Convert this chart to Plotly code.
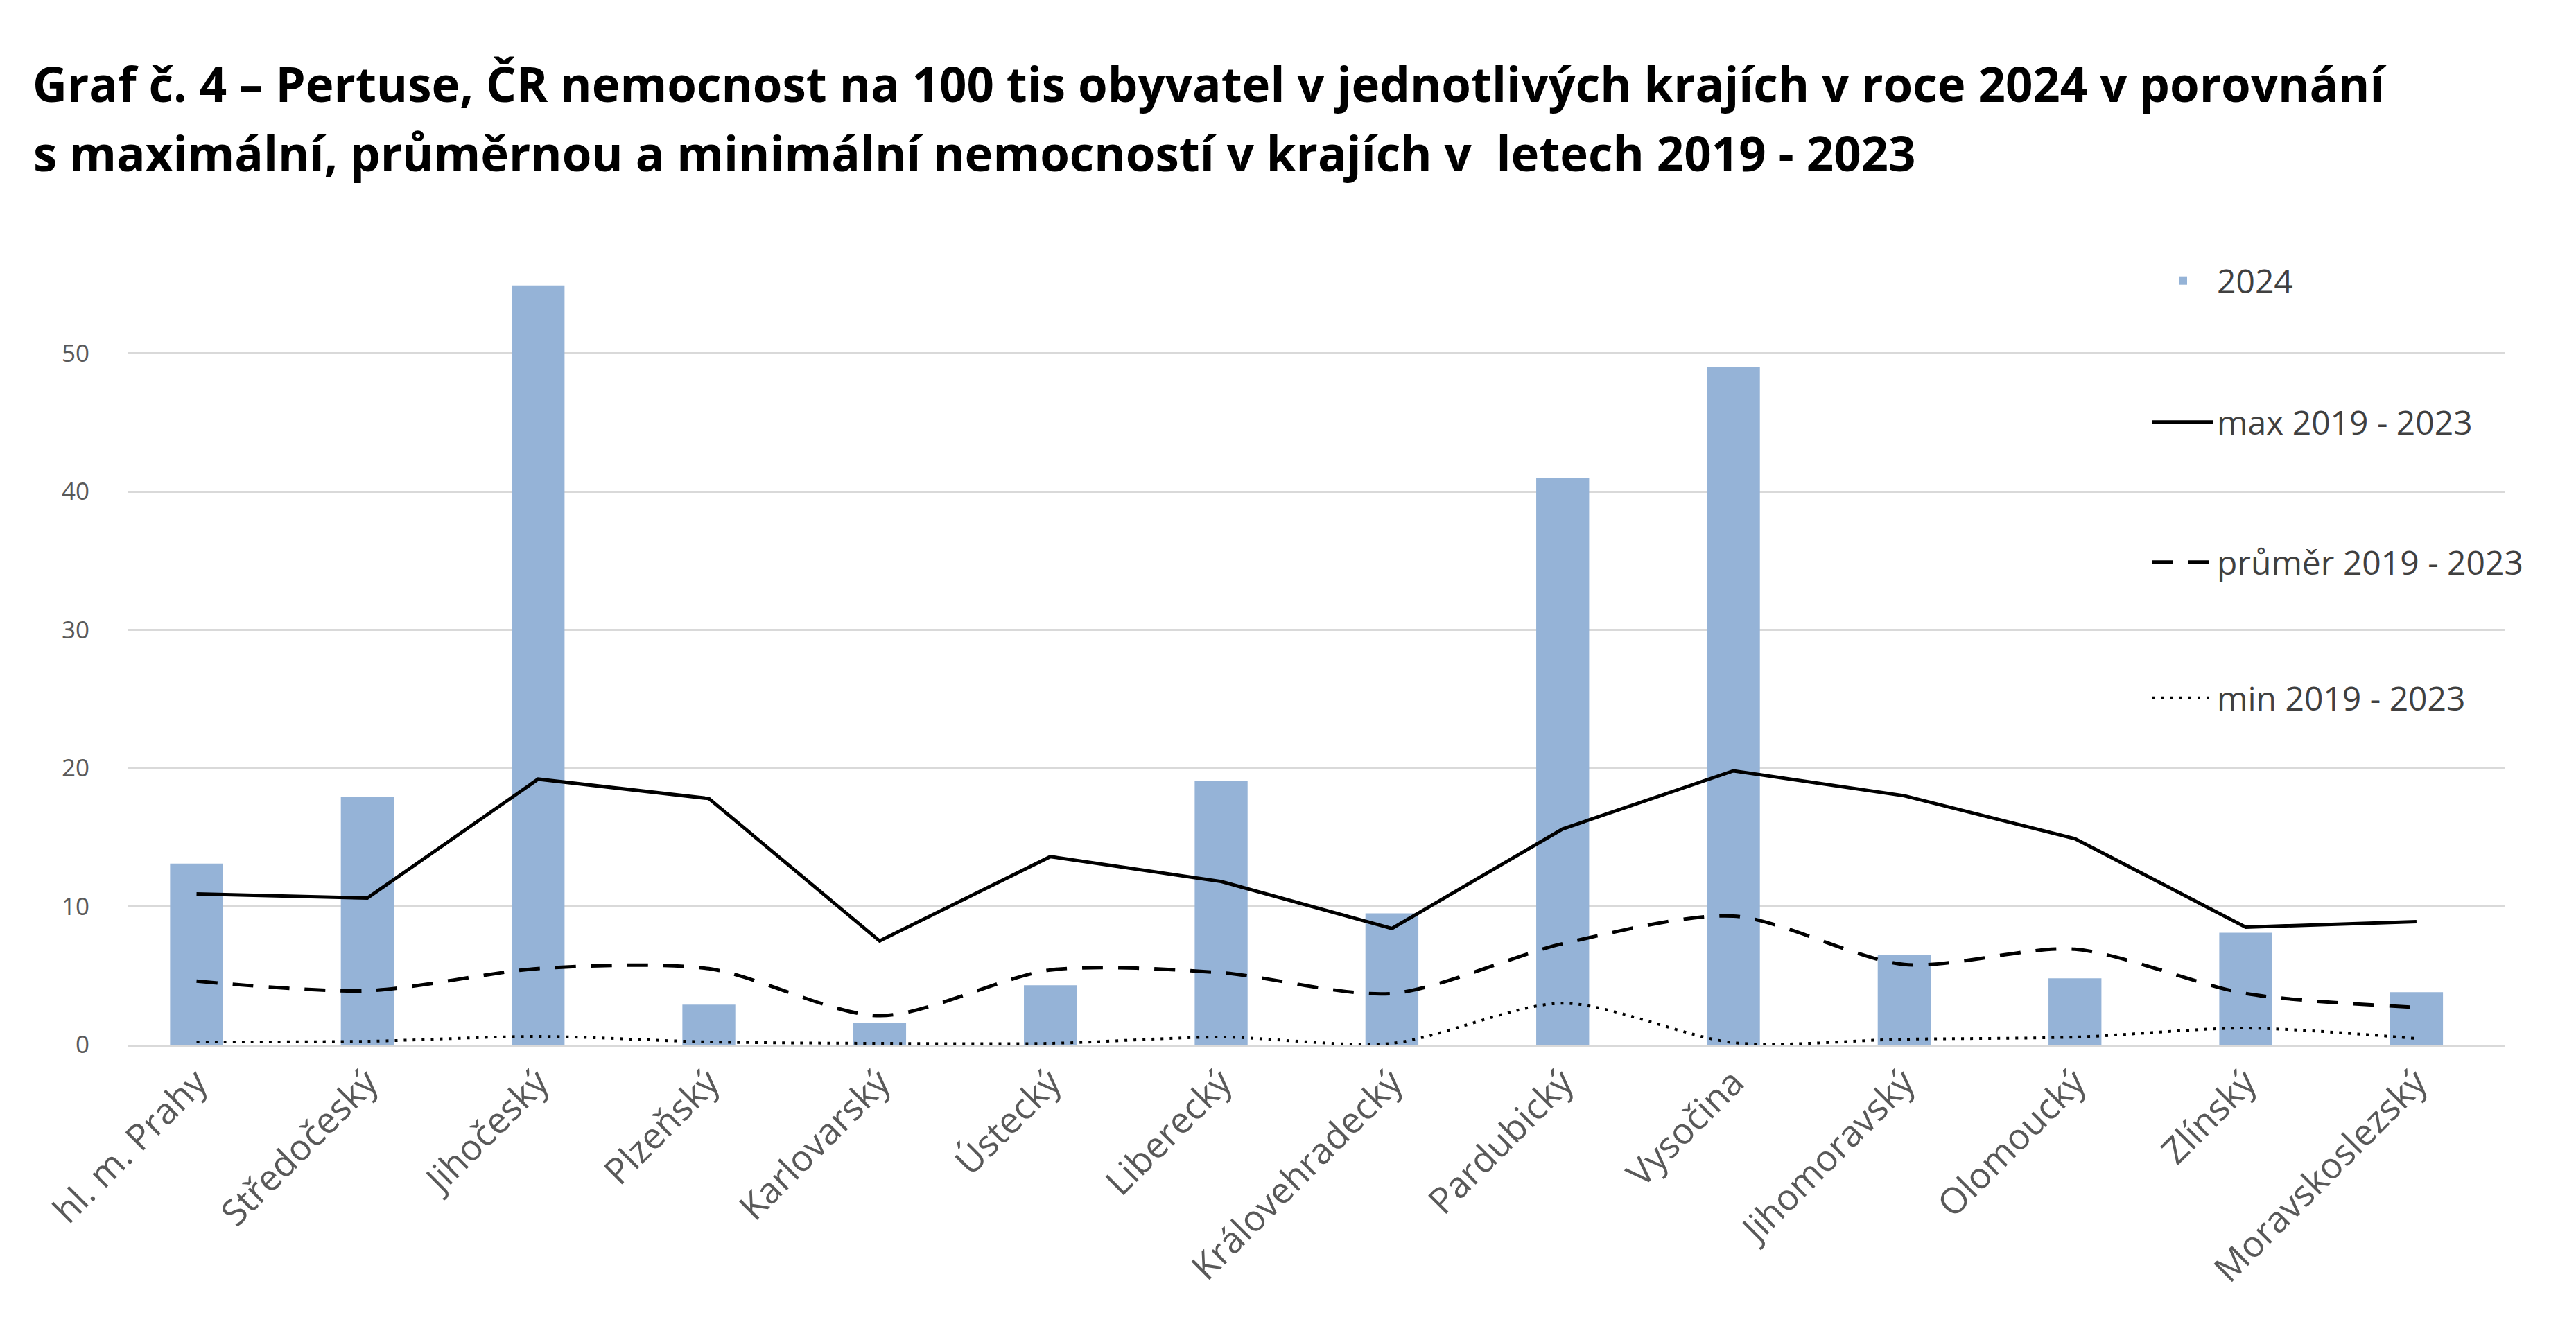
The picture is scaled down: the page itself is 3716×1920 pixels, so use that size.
import plotly.graph_objects as go

kraje = ["hl. m. Prahy", "Středočeský", "Jihočeský", "Plzeňský", "Karlovarský", "Ústecký",
         "Liberecký", "Královehradecký", "Pardubický", "Vysočina", "Jihomoravský",
         "Olomoucký", "Zlínský", "Moravskoslezský"]
rok_2024 = [13.1, 17.9, 54.9, 2.9, 1.6, 4.3, 19.1, 9.5, 41.0, 49.0, 6.5, 4.8, 8.1, 3.8]
max_19_23 = [10.9, 10.6, 19.2, 17.8, 7.5, 13.6, 11.8, 8.4, 15.6, 19.8, 18.0, 14.9, 8.5, 8.9]
prumer_19_23 = [4.6, 3.9, 5.5, 5.5, 2.1, 5.4, 5.2, 3.7, 7.3, 9.3, 5.8, 6.9, 3.7, 2.7]
min_19_23 = [0.2, 0.25, 0.6, 0.2, 0.1, 0.1, 0.55, 0.1, 3.0, 0.15, 0.4, 0.55, 1.2, 0.45]
y_ticks = [0, 10, 20, 30, 40, 50]

W, H = 3716, 1920
L, R, T, B = 185, 3614, 360, 1507

FONT = "Open Sans"
fig = go.Figure()
fig.add_trace(go.Bar(x=kraje, y=rok_2024, name="2024", marker_color="#95B3D7",
                     marker_line_width=0, width=0.31, legend="legend"))
fig.add_trace(go.Scatter(x=kraje, y=max_19_23, name="max 2019 - 2023", mode="lines",
                         line=dict(color="black", width=5), legend="legend2"))
fig.add_trace(go.Scatter(x=kraje, y=prumer_19_23, name="průměr 2019 - 2023", mode="lines",
                         line=dict(color="black", width=5, dash="30px,22px", shape="spline", smoothing=0.8),
                         legend="legend3"))
fig.add_trace(go.Scatter(x=kraje, y=min_19_23, name="min 2019 - 2023", mode="lines",
                         line=dict(color="black", width=4, dash="4px,9px", shape="spline", smoothing=0.8),
                         legend="legend4"))

def leg(ypx):
    return dict(xref="container", yref="container", x=3100 / W, y=1 - ypx / H,
                xanchor="left", yanchor="middle", bgcolor="rgba(0,0,0,0)",
                itemwidth=88,
                font=dict(family=FONT, size=48, color="#404040"))

fig.update_layout(
    width=W, height=H,
    margin=dict(l=L, r=W - R, t=T, b=H - B, autoexpand=False),
    paper_bgcolor="white", plot_bgcolor="white",
    title=dict(text="Graf č. 4 – Pertuse, ČR nemocnost na 100 tis obyvatel v jednotlivých krajích v roce 2024 v porovnání",
               xref="container", yref="container", x=47 / W, y=1 - 123 / H,
               xanchor="left", yanchor="middle",
               font=dict(family=FONT, size=69, color="black", weight="bold")),
    legend=leg(405), legend2=leg(609), legend3=leg(811), legend4=leg(1007),
    showlegend=True,
    xaxis=dict(range=[-0.4, 13.52], tickangle=-45, showgrid=False, showline=True,
               linecolor="#D9D9D9", linewidth=3, ticks="",
               tickfont=dict(family=FONT, size=52, color="#595959")),
    yaxis=dict(range=[0, (B - T) / ((B - 509.5) / 50)], tickvals=y_ticks, showgrid=True,
               gridcolor="#D9D9D9", gridwidth=3, zeroline=False, showline=False,
               ticklabelstandoff=55,
               tickfont=dict(family=FONT, size=35, color="#595959")),
    annotations=[dict(text="s maximální, průměrnou a minimální nemocností v krajích v  letech 2019 - 2023",
                      xref="paper", yref="paper", x=(47 - L) / (R - L), y=(B - 220) / (B - T),
                      xanchor="left", yanchor="middle", showarrow=False, borderpad=0,
                      font=dict(family=FONT, size=69, color="black", weight="bold"))],
)

fig.write_html("out.html")
